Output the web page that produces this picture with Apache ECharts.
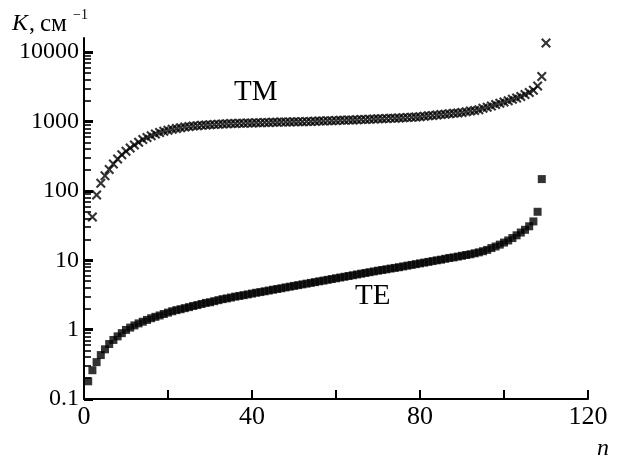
<!DOCTYPE html>
<html>
<head>
<meta charset="utf-8">
<script src="https://cdn.jsdelivr.net/npm/echarts@6/dist/echarts.min.js"></script>
<style>
  html, body { margin: 0; padding: 0; background: #fff; }
  #main { width: 622px; height: 463px; }
</style>
</head>
<body>
<div id="main"></div>
<script>
    // n runs 2..110 for TM and 1..109 for TE, one point per mode
    var tmFirstN = 2;
    var tmK = [42, 87, 129, 166, 204, 245, 288, 331, 372, 417,
        457, 501, 550, 589, 624, 661, 692, 724, 750, 776,
        794, 813, 832, 847, 861, 870, 881, 891, 902, 907,
        913, 920, 927, 933, 938, 942, 946, 951, 955, 959,
        963, 968, 972, 977, 980, 983, 985, 987, 989, 992,
        996, 1000, 1005, 1012, 1016, 1021, 1025, 1030, 1035, 1040,
        1045, 1050, 1054, 1059, 1066, 1074, 1081, 1088, 1096, 1101,
        1106, 1112, 1117, 1122, 1133, 1143, 1153, 1164, 1175, 1191,
        1208, 1225, 1242, 1259, 1277, 1296, 1311, 1330, 1349, 1380,
        1413, 1445, 1479, 1549, 1610, 1680, 1760, 1841, 1905, 1995,
        2090, 2190, 2290, 2450, 2630, 2820, 3240, 4470, 13500];

    var teFirstN = 1;
    var teK = [0.18, 0.26, 0.34, 0.43, 0.52, 0.62, 0.71, 0.80, 0.89, 0.99,
        1.07, 1.15, 1.23, 1.30, 1.38, 1.46, 1.53, 1.60, 1.68, 1.76,
        1.84, 1.91, 1.97, 2.04, 2.11, 2.19, 2.26, 2.34, 2.43, 2.48,
        2.57, 2.66, 2.75, 2.82, 2.90, 2.99, 3.06, 3.14, 3.22, 3.31,
        3.40, 3.48, 3.57, 3.66, 3.76, 3.85, 3.95, 4.06, 4.16, 4.27,
        4.38, 4.49, 4.60, 4.72, 4.84, 4.97, 5.09, 5.22, 5.36, 5.50,
        5.64, 5.78, 5.93, 6.08, 6.24, 6.40, 6.56, 6.73, 6.90, 7.08,
        7.24, 7.41, 7.59, 7.76, 7.94, 8.15, 8.36, 8.57, 8.79, 9.02,
        9.25, 9.48, 9.73, 9.98, 10.2, 10.5, 10.8, 11.0, 11.3, 11.6,
        11.9, 12.2, 12.6, 13.0, 13.5, 14.1, 15.0, 15.8, 16.8, 18.0,
        19.3, 20.9, 22.9, 25.1, 27.5, 30.9, 36.3, 50, 148];

    var xTickLabels = [0, 40, 80, 120];
    var yTickLabels = [0.1, 1, 10, 100, 1000, 10000];
    var yDecades = [0.1, 1, 10, 100, 1000];
    var yMinorSteps = [2, 3, 4, 5, 6, 7, 8, 9];

    function toPoints(firstN, values) {
        var pts = [];
        for (var i = 0; i < values.length; i++) {
            pts.push([firstN + i, values[i]]);
        }
        return pts;
    }

    var yMinor = [];
    for (var d = 0; d < yDecades.length; d++) {
        for (var s = 0; s < yMinorSteps.length; s++) {
            yMinor.push(+(yDecades[d] * yMinorSteps[s]).toPrecision(2));
        }
    }

    var serif = '"Liberation Serif", "Times New Roman", serif';
    var crossPath = 'path://M0,1.5L1.5,0L5,3.5L8.5,0L10,1.5L6.5,5L10,8.5L8.5,10L5,6.5L1.5,10L0,8.5L3.5,5Z';

    // tick-only log axis laid over the left edge
    function tickAxis(values, len, width) {
        return {
            type: 'log',
            logBase: 10,
            min: 0.1,
            max: 16000,
            position: 'left',
            offset: 0,
            splitLine: { show: false },
            axisLine: { show: false },
            axisLabel: { show: false },
            axisTick: {
                show: true, inside: true, length: len, customValues: values,
                lineStyle: { color: '#000', width: width }
            }
        };
    }

    var option = {
        animation: false,
        backgroundColor: '#fff',
        grid: { left: 84, right: 34, top: 38, bottom: 64, outerBoundsMode: 'none' },
        xAxis: {
            type: 'value',
            min: 0,
            max: 120,
            interval: 20,
            splitLine: { show: false },
            axisLine: { lineStyle: { color: '#000', width: 2 } },
            axisTick: { inside: true, length: 9, lineStyle: { color: '#000', width: 2 } },
            axisLabel: {
                margin: 5,
                color: '#000',
                fontFamily: serif,
                fontSize: 26,
                formatter: function (v) {
                    return xTickLabels.indexOf(v) >= 0 ? String(v) : '';
                }
            }
        },
        yAxis: [{
            type: 'log',
            logBase: 10,
            min: 0.1,
            max: 16000,
            position: 'left',
            splitLine: { show: false },
            axisLine: { lineStyle: { color: '#000', width: 2 } },
            axisTick: { show: false },
            axisLabel: {
                customValues: yTickLabels,
                margin: 5,
                color: '#000',
                fontFamily: serif,
                fontSize: 24,
                formatter: function (v) {
                    return v >= 1 ? String(Math.round(v)) : String(+v.toPrecision(1));
                }
            }
        },
            tickAxis(yMinor, 7, 1.6),
            tickAxis(yTickLabels, 9, 3)
        ],
        graphic: [
            { type: 'text', style: { x: 12, y: 12, text: 'K', font: 'italic 24px ' + serif, fill: '#000', verticalAlign: 'top' } },
            { type: 'text', style: { x: 29, y: 12, text: ',', font: '24px ' + serif, fill: '#000', verticalAlign: 'top' } },
            { type: 'text', style: { x: 40, y: 12, text: 'см', font: '25px ' + serif, fill: '#000', verticalAlign: 'top' } },
            { type: 'text', style: { x: 73, y: 8, text: '\u22121', font: '14px ' + serif, fill: '#000', verticalAlign: 'top' } },
            { type: 'text', style: { x: 597, y: 437, text: 'n', font: 'italic 24px ' + serif, fill: '#000', verticalAlign: 'top' } },
            { type: 'text', style: { x: 234, y: 78, text: 'TM', font: '29px ' + serif, fill: '#000', verticalAlign: 'top' } },
            { type: 'text', style: { x: 355, y: 282, text: 'TE', font: '29px ' + serif, fill: '#000', verticalAlign: 'top' } }
        ],
        series: [{
            name: 'TM',
            type: 'scatter',
            yAxisIndex: 0,
            symbol: crossPath,
            symbolSize: 10,
            itemStyle: { color: '#000' },
            data: toPoints(tmFirstN, tmK)
        }, {
            name: 'TE',
            type: 'scatter',
            yAxisIndex: 0,
            symbol: 'rect',
            symbolSize: 8,
            itemStyle: { color: '#000' },
            data: toPoints(teFirstN, teK)
        }]
    };

    echarts.init(document.getElementById('main')).setOption(option);
</script>
</body>
</html>
